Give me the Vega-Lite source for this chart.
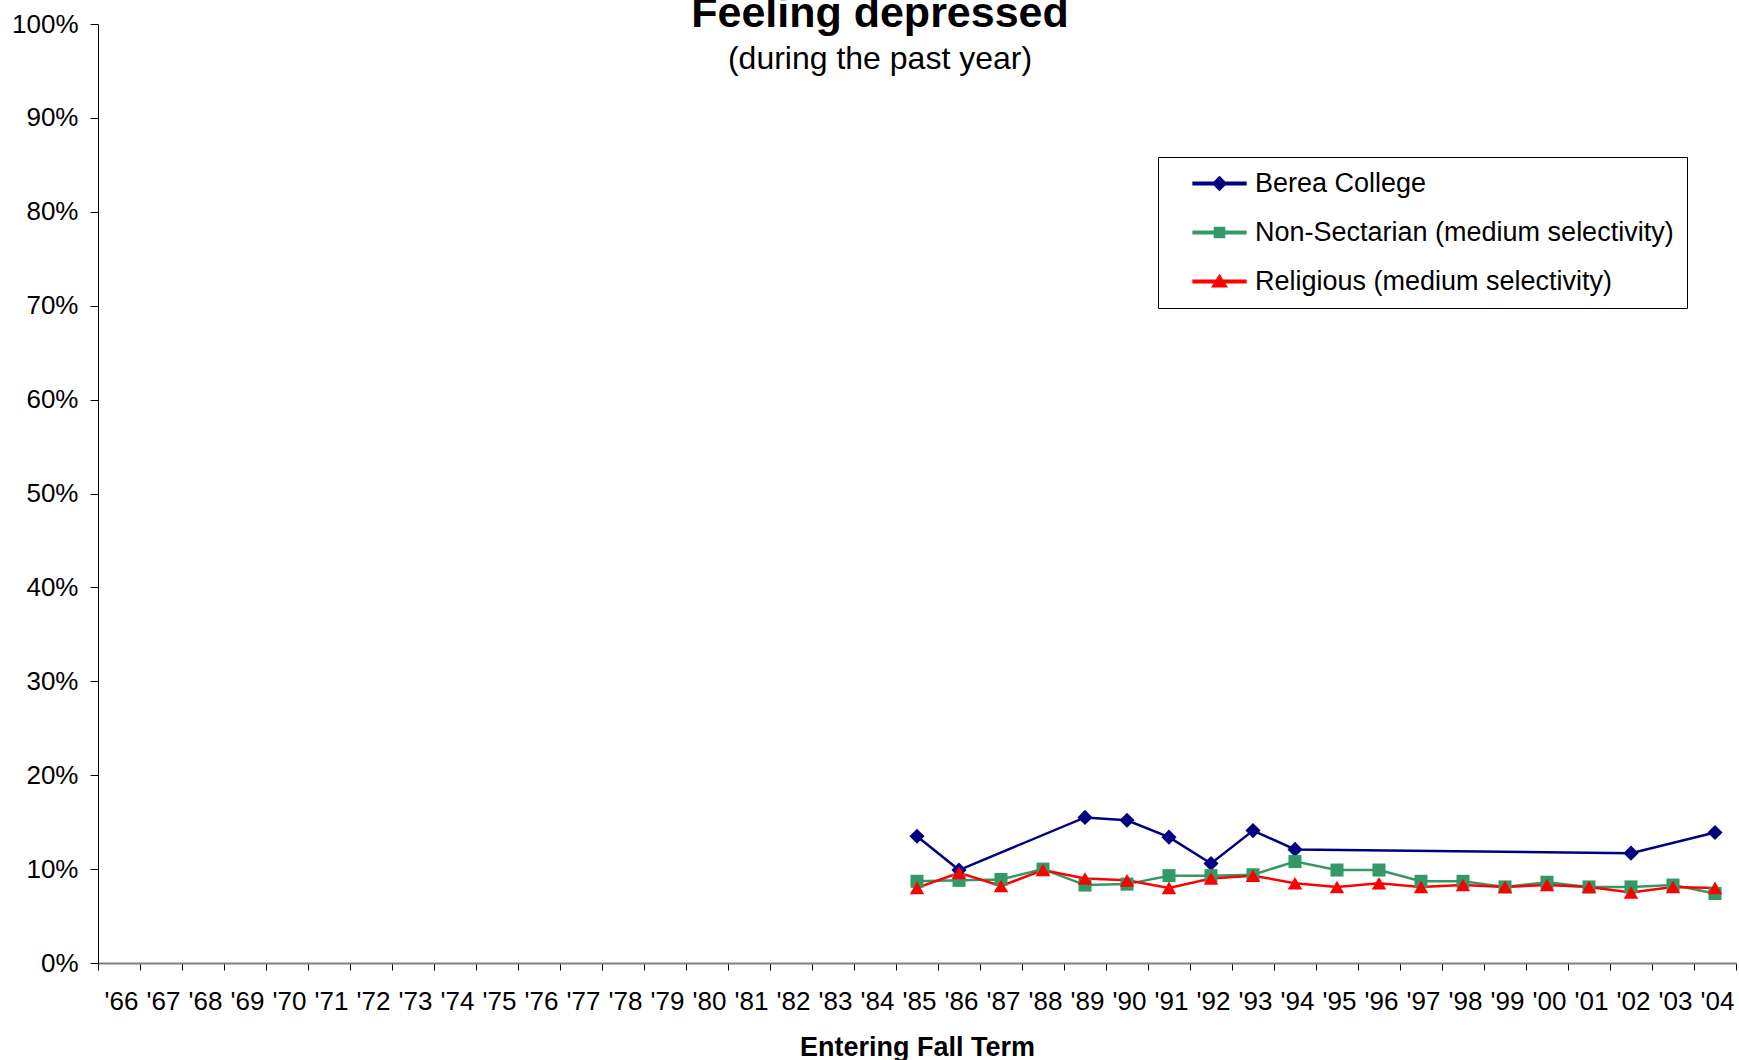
{
  "$schema": "https://vega.github.io/schema/vega-lite/v6.json",
  "width": 1638,
  "height": 939,
  "autosize": "none",
  "padding": {"left": 98, "top": 24, "right": 3, "bottom": 97},
  "background": "white",
  "config": {
    "view": {"stroke": null},
    "font": "Liberation Sans",
    "axis": {"labelFont": "Liberation Sans", "titleFont": "Liberation Sans", "labelColor": "black", "titleColor": "black", "grid": false}
  },
  "title": {
    "text": "Feeling depressed",
    "subtitle": "(during the past year)",
    "font": "Liberation Sans",
    "fontSize": 43,
    "fontWeight": "bold",
    "color": "black",
    "subtitleFont": "Liberation Sans",
    "subtitleFontSize": 32,
    "subtitleColor": "black",
    "subtitlePadding": 8,
    "anchor": "middle",
    "frame": "group",
    "dx": -37,
    "offset": -64
  },
  "data": {
    "values": [
      {"Year": 1985, "Series": "Berea College", "Value": 0.135},
      {"Year": 1986, "Series": "Berea College", "Value": 0.099},
      {"Year": 1989, "Series": "Berea College", "Value": 0.155},
      {"Year": 1990, "Series": "Berea College", "Value": 0.152},
      {"Year": 1991, "Series": "Berea College", "Value": 0.134},
      {"Year": 1992, "Series": "Berea College", "Value": 0.106},
      {"Year": 1993, "Series": "Berea College", "Value": 0.141},
      {"Year": 1994, "Series": "Berea College", "Value": 0.121},
      {"Year": 2002, "Series": "Berea College", "Value": 0.117},
      {"Year": 2004, "Series": "Berea College", "Value": 0.139},
      {"Year": 1985, "Series": "Non-Sectarian (medium selectivity)", "Value": 0.087},
      {"Year": 1986, "Series": "Non-Sectarian (medium selectivity)", "Value": 0.088},
      {"Year": 1987, "Series": "Non-Sectarian (medium selectivity)", "Value": 0.089},
      {"Year": 1988, "Series": "Non-Sectarian (medium selectivity)", "Value": 0.100},
      {"Year": 1989, "Series": "Non-Sectarian (medium selectivity)", "Value": 0.083},
      {"Year": 1990, "Series": "Non-Sectarian (medium selectivity)", "Value": 0.084},
      {"Year": 1991, "Series": "Non-Sectarian (medium selectivity)", "Value": 0.093},
      {"Year": 1992, "Series": "Non-Sectarian (medium selectivity)", "Value": 0.093},
      {"Year": 1993, "Series": "Non-Sectarian (medium selectivity)", "Value": 0.094},
      {"Year": 1994, "Series": "Non-Sectarian (medium selectivity)", "Value": 0.108},
      {"Year": 1995, "Series": "Non-Sectarian (medium selectivity)", "Value": 0.099},
      {"Year": 1996, "Series": "Non-Sectarian (medium selectivity)", "Value": 0.099},
      {"Year": 1997, "Series": "Non-Sectarian (medium selectivity)", "Value": 0.087},
      {"Year": 1998, "Series": "Non-Sectarian (medium selectivity)", "Value": 0.087},
      {"Year": 1999, "Series": "Non-Sectarian (medium selectivity)", "Value": 0.081},
      {"Year": 2000, "Series": "Non-Sectarian (medium selectivity)", "Value": 0.086},
      {"Year": 2001, "Series": "Non-Sectarian (medium selectivity)", "Value": 0.081},
      {"Year": 2002, "Series": "Non-Sectarian (medium selectivity)", "Value": 0.081},
      {"Year": 2003, "Series": "Non-Sectarian (medium selectivity)", "Value": 0.083},
      {"Year": 2004, "Series": "Non-Sectarian (medium selectivity)", "Value": 0.074},
      {"Year": 1985, "Series": "Religious (medium selectivity)", "Value": 0.080},
      {"Year": 1986, "Series": "Religious (medium selectivity)", "Value": 0.096},
      {"Year": 1987, "Series": "Religious (medium selectivity)", "Value": 0.082},
      {"Year": 1988, "Series": "Religious (medium selectivity)", "Value": 0.099},
      {"Year": 1989, "Series": "Religious (medium selectivity)", "Value": 0.090},
      {"Year": 1990, "Series": "Religious (medium selectivity)", "Value": 0.088},
      {"Year": 1991, "Series": "Religious (medium selectivity)", "Value": 0.080},
      {"Year": 1992, "Series": "Religious (medium selectivity)", "Value": 0.090},
      {"Year": 1993, "Series": "Religious (medium selectivity)", "Value": 0.093},
      {"Year": 1994, "Series": "Religious (medium selectivity)", "Value": 0.085},
      {"Year": 1995, "Series": "Religious (medium selectivity)", "Value": 0.081},
      {"Year": 1996, "Series": "Religious (medium selectivity)", "Value": 0.085},
      {"Year": 1997, "Series": "Religious (medium selectivity)", "Value": 0.081},
      {"Year": 1998, "Series": "Religious (medium selectivity)", "Value": 0.083},
      {"Year": 1999, "Series": "Religious (medium selectivity)", "Value": 0.081},
      {"Year": 2000, "Series": "Religious (medium selectivity)", "Value": 0.083},
      {"Year": 2001, "Series": "Religious (medium selectivity)", "Value": 0.081},
      {"Year": 2002, "Series": "Religious (medium selectivity)", "Value": 0.075},
      {"Year": 2003, "Series": "Religious (medium selectivity)", "Value": 0.081},
      {"Year": 2004, "Series": "Religious (medium selectivity)", "Value": 0.080}
    ]
  },
  "encoding": {
    "x": {
      "field": "Year",
      "type": "quantitative",
      "scale": {"domain": [1965.5, 2004.5], "nice": false, "zero": false},
      "axis": {
        "values": [1965.5, 1966.5, 1967.5, 1968.5, 1969.5, 1970.5, 1971.5, 1972.5, 1973.5, 1974.5, 1975.5, 1976.5, 1977.5, 1978.5, 1979.5, 1980.5, 1981.5, 1982.5, 1983.5, 1984.5, 1985.5, 1986.5, 1987.5, 1988.5, 1989.5, 1990.5, 1991.5, 1992.5, 1993.5, 1994.5, 1995.5, 1996.5, 1997.5, 1998.5, 1999.5, 2000.5, 2001.5, 2002.5, 2003.5, 2004.5],
        "labelExpr": "datum.value > 2004 ? '' : \"'\" + slice(toString(floor(datum.value + 0.5)), 2)",
        "labelOffset": 23,
        "labelFlush": false,
        "labelOverlap": false,
        "labelBound": false,
        "labelFontSize": 26,
        "labelPadding": 18,
        "tickSize": 7,
        "tickColor": "black",
        "tickWidth": 1,
        "domainColor": "#808080",
        "domainWidth": 2,
        "title": "Entering Fall Term",
        "titleFontSize": 27,
        "titleFontWeight": "bold",
        "titlePadding": 20
      }
    },
    "y": {
      "field": "Value",
      "type": "quantitative",
      "scale": {"domain": [0, 1], "nice": false},
      "axis": {
        "values": [0, 0.1, 0.2, 0.3, 0.4, 0.5, 0.6, 0.7, 0.8, 0.9, 1],
        "format": ".0%",
        "labelFontSize": 26,
        "labelPadding": 12,
        "labelFlush": false,
        "tickSize": 8,
        "tickColor": "black",
        "domainColor": "black",
        "domainWidth": 1,
        "title": null
      }
    }
  },
  "layer": [
    {
      "mark": {"type": "point", "filled": true, "opacity": 0, "size": 576},
      "encoding": {
        "color": {
          "field": "Series",
          "type": "nominal",
          "scale": {
            "domain": ["Berea College", "Non-Sectarian (medium selectivity)", "Religious (medium selectivity)"],
            "range": ["#000080", "#339966", "#FF0000"]
          },
          "legend": {
            "title": null,
            "orient": "none",
            "legendX": 1060,
            "legendY": 133,
            "padding": 13,
            "strokeColor": "black",
            "fillColor": "white",
            "labelFont": "Liberation Sans",
            "labelFontSize": 27,
            "labelColor": "black",
            "labelLimit": 700,
            "labelOffset": 22,
            "labelExpr": "datum.label + '\u00a0\u00a0\u00a0\u00a0\u00a0\u00a0'",
            "rowPadding": 21,
            "symbolOffset": 35,
            "symbolSize": 576,
            "symbolOpacity": 1
          }
        },
        "shape": {
          "field": "Series",
          "type": "nominal",
          "scale": {
            "domain": ["Berea College", "Non-Sectarian (medium selectivity)", "Religious (medium selectivity)"],
            "range": [
              "M-2.2,-0.1H2.2V0.1H-2.2ZM0,-0.56L0.56,0L0,0.56L-0.56,0Z",
              "M-2.2,-0.1H2.2V0.1H-2.2ZM-0.42,-0.42H0.42V0.42H-0.42Z",
              "M-2.2,-0.1H2.2V0.1H-2.2ZM0,-0.52L0.6,0.44H-0.6Z"
            ]
          },
          "legend": null
        }
      }
    },
    {
      "mark": {"type": "line", "strokeWidth": 2.5},
      "encoding": {
        "stroke": {
          "field": "Series",
          "type": "nominal",
          "scale": {
            "domain": ["Berea College", "Non-Sectarian (medium selectivity)", "Religious (medium selectivity)"],
            "range": ["#000080", "#339966", "#FF0000"]
          },
          "legend": null
        }
      }
    },
    {
      "transform": [{"filter": "datum.Series === 'Berea College'"}],
      "mark": {"type": "point", "filled": true, "opacity": 1, "shape": "diamond", "size": 230, "color": "#000080"}
    },
    {
      "transform": [{"filter": "datum.Series === 'Non-Sectarian (medium selectivity)'"}],
      "mark": {"type": "point", "filled": true, "opacity": 1, "shape": "square", "size": 170, "color": "#339966"}
    },
    {
      "transform": [{"filter": "datum.Series === 'Religious (medium selectivity)'"}],
      "mark": {"type": "point", "filled": true, "opacity": 1, "shape": "triangle-up", "size": 210, "color": "#FF0000"}
    }
  ]
}
